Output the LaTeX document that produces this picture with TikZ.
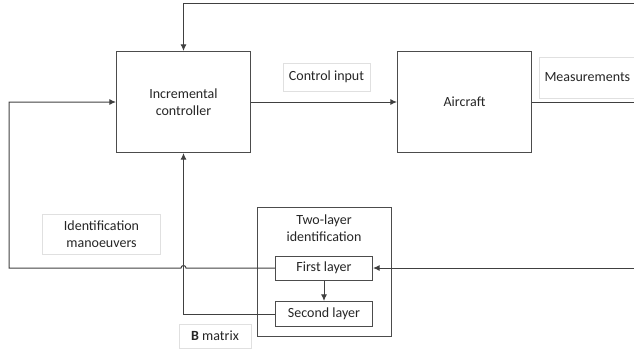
\documentclass[tikz,border=0pt]{standalone}
\usepackage{fontspec}
\setmainfont{Carlito}
\usetikzlibrary{arrows.meta}
\begin{document}
\begin{tikzpicture}[x=0.75pt,y=-0.75pt,
  font=\fontsize{10.5}{12.6}\selectfont,
  every node/.style={text=black!85},
  blk/.style={draw=black!70, line width=0.75pt, fill=white, inner sep=0pt, align=center},
  lbl/.style={draw=black!12, line width=0.75pt, fill=white, inner sep=0pt, align=center},
  wire/.style={draw=black!75, line width=0.75pt},
  arr/.style={wire, -{Latex[length=5pt,width=4.5pt]}}]
\useasboundingbox (0,0) rectangle (634,350);
\clip (0,0) rectangle (634,350);
\node[blk, minimum width=134*0.75pt, minimum height=101*0.75pt] (ctrl) at (183.5,102) {Incremental\\controller};
\node[blk, minimum width=134*0.75pt, minimum height=101*0.75pt] (air) at (464.5,102) {Aircraft};
\node[lbl, minimum width=87*0.75pt, minimum height=28*0.75pt] (ctlin) at (326.5,77) {Control input};
\node[lbl, anchor=west, minimum height=41*0.75pt, text width=130*0.75pt, inner xsep=5*0.75pt, align=left] (meas) at (539,77.5) {Measurements};
\node[lbl, minimum width=118*0.75pt, minimum height=40*0.75pt] (idman) at (101.5,234) {Identification\\manoeuvers};
\node[lbl, minimum width=72*0.75pt, minimum height=24*0.75pt] (bmat) at (215,336) {\textbf{B} matrix};
\node[blk, minimum width=134*0.75pt, minimum height=129*0.75pt] (two) at (324,272) {};
\node[align=center, inner sep=0pt] (twot) at (324,228.5) {Two-layer\\identification};
\node[blk, minimum width=97*0.75pt, minimum height=24*0.75pt] (first) at (324,268) {First layer};
\node[blk, minimum width=97*0.75pt, minimum height=25*0.75pt] (second) at (324,314) {Second layer};
\coordinate (topr) at (640,3);
\coordinate (outr) at (640,102);
\coordinate (inr) at (640,268);
\coordinate (hopr) at (186,268);
\coordinate (lft) at (9,268);
\draw[arr] (topr) -| (ctrl.north);
\draw[arr] (ctrl.east) -- (air.west);
\draw[wire] (air.east) -- (outr);
\draw[arr] (inr) -- (first.east);
\draw[arr] (first.south) -- (second.north);
\draw[arr] (second.west) -| (ctrl.south);
\draw[arr] (first.west) -- (hopr) arc[start angle=0,end angle=180,radius=1.875pt] -- (lft) |- (ctrl.west);
\end{tikzpicture}
\end{document}
